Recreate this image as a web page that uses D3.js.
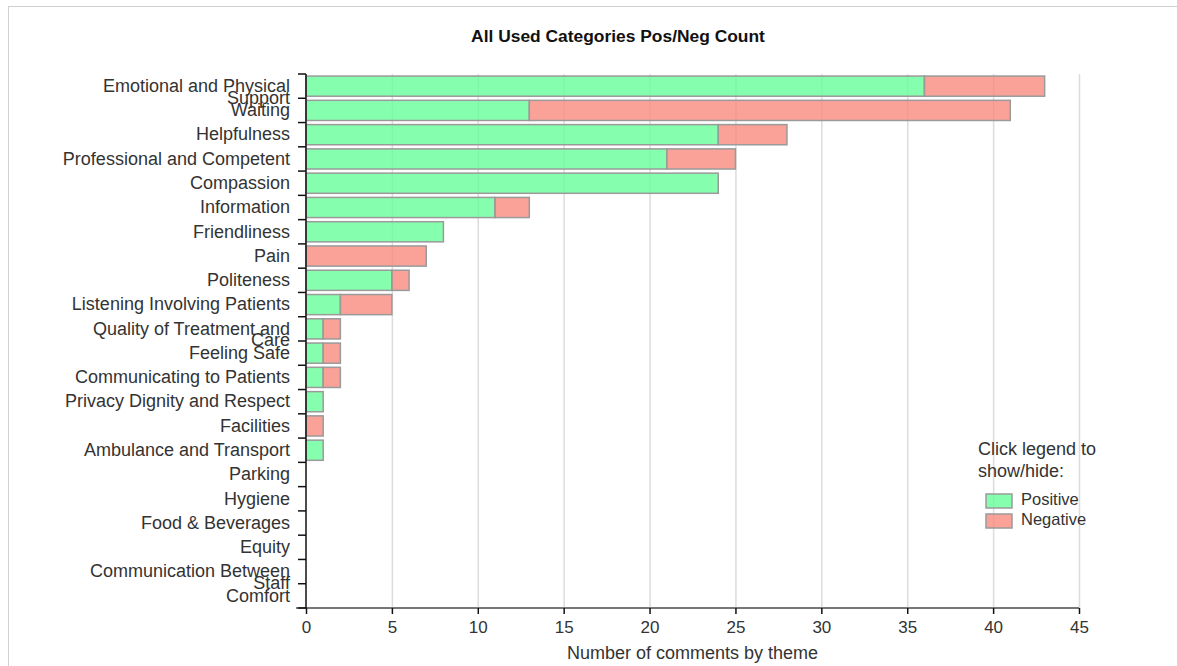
<!DOCTYPE html>
<html>
<head>
<meta charset="utf-8">
<script src="https://cdn.jsdelivr.net/npm/d3@7"></script>
<style>
  html, body { margin: 0; padding: 0; background: #fff; overflow: hidden; }
  #frame { position: absolute; left: 8px; top: 6px; width: 1200px; height: 700px;
           border: 1px solid #d0d0d0; box-sizing: border-box; }
  svg { position: absolute; left: 0; top: 0; }
  text { font-family: "Liberation Sans", Arial, sans-serif; }
</style>
</head>
<body>
<div id="frame"></div>
<svg id="chart" width="1177" height="666"></svg>
<script>
// Themes, ordered by total count
const categories = [
  "Emotional and Physical Support", "Waiting", "Helpfulness",
  "Professional and Competent", "Compassion", "Information", "Friendliness",
  "Pain", "Politeness", "Listening Involving Patients",
  "Quality of Treatment and Care", "Feeling Safe", "Communicating to Patients",
  "Privacy Dignity and Respect", "Facilities", "Ambulance and Transport",
  "Parking", "Hygiene", "Food & Beverages", "Equity",
  "Communication Between Staff", "Comfort"
];
const positive = [36, 13, 24, 21, 24, 11, 8, 0, 5, 2, 1, 1, 1, 1, 0, 1, 0, 0, 0, 0, 0, 0];
const negative = [7, 28, 4, 4, 0, 2, 0, 7, 1, 3, 1, 1, 1, 0, 1, 0, 0, 0, 0, 0, 0, 0];
const seriesNames = ["Positive", "Negative"];
const xTicks = [0, 5, 10, 15, 20, 25, 30, 35, 40, 45];

const colors = { Positive: "#66ff99", Negative: "#f98b7e" };

const rows = categories.map((c, i) => ({ category: c, Positive: positive[i], Negative: negative[i] }));
const stacked = d3.stack().keys(seriesNames)(rows);

const svg = d3.select("#chart");
const plotLeft = 306, plotRight = 1079, plotTop = 74, plotBottom = 608;

const x = d3.scaleLinear().domain([0, 45]).range([plotLeft, plotRight]);
const y = d3.scaleBand().domain(categories).range([plotTop, plotBottom])
  .paddingInner(0.17).paddingOuter(0.085);

// vertical gridlines
svg.append("g")
  .attr("transform", `translate(0,${plotTop})`)
  .call(d3.axisBottom(x).tickValues(xTicks.slice(1)).tickSize(plotBottom - plotTop).tickFormat(""))
  .call(g => g.select(".domain").remove())
  .call(g => g.selectAll(".tick line").attr("stroke", "#dcdcdc").attr("stroke-width", 1.5));

// stacked bars
const layers = svg.append("g").selectAll("g")
  .data(stacked).join("g")
  .attr("fill", d => colors[d.key])
  .attr("fill-opacity", 0.8);

layers.selectAll("rect")
  .data(d => d.filter(s => s[1] - s[0] > 0))
  .join("rect")
  .attr("x", d => x(d[0]))
  .attr("y", d => y(d.data.category))
  .attr("width", d => x(d[1]) - x(d[0]))
  .attr("height", y.bandwidth())
  .attr("stroke", "#9a9a9a")
  .attr("stroke-width", 1.5);

// x axis
const xAxis = svg.append("g")
  .attr("transform", `translate(0,${plotBottom})`)
  .call(d3.axisBottom(x).tickValues(xTicks).tickSizeOuter(0).tickPadding(7));
xAxis.select(".domain").attr("stroke", "#777").attr("stroke-width", 2)
  .attr("d", `M${plotLeft - 10},0H${plotRight}`);
xAxis.selectAll(".tick line").attr("stroke", "#111").attr("stroke-width", 1.5);
xAxis.selectAll(".tick text").attr("font-size", 17).attr("fill", "#333")
  .attr("font-family", "Liberation Sans, Arial, sans-serif");

svg.append("text")
  .attr("x", (plotLeft + plotRight) / 2).attr("y", 659)
  .attr("text-anchor", "middle").attr("font-size", 18).attr("fill", "#333")
  .text("Number of comments by theme");

// y axis: labels centred on bands, ticks on band boundaries
const yAxis = svg.append("g")
  .attr("transform", `translate(${plotLeft},0)`)
  .call(d3.axisLeft(y).tickSize(0).tickPadding(16));
yAxis.select(".domain").attr("stroke", "#111").attr("stroke-width", 1.5)
  .attr("d", `M0,${plotTop}V${plotBottom}`);
yAxis.selectAll(".tick text")
  .attr("font-size", 18).attr("fill", "#333")
  .attr("font-family", "Liberation Sans, Arial, sans-serif")
  .call(wrap, 235);

const bounds = categories.map(c => y(c) - y.step() * y.paddingInner() / 2)
  .concat([plotBottom]);
yAxis.selectAll(".bound").data(bounds).join("line")
  .attr("class", "bound")
  .attr("x1", -8).attr("x2", 0)
  .attr("y1", d => d).attr("y2", d => d)
  .attr("stroke", "#111").attr("stroke-width", 1.5);

// break long labels onto tightly spaced lines
function wrap(texts, width) {
  texts.each(function () {
    const text = d3.select(this);
    const words = text.text().split(/\s+/).reverse();
    const xPos = text.attr("x");
    let line = [], word;
    let tspan = text.text(null).append("tspan").attr("x", xPos).attr("dy", "0.32em");
    while ((word = words.pop())) {
      line.push(word);
      tspan.text(line.join(" "));
      if (tspan.node().getComputedTextLength() > width && line.length > 1) {
        line.pop();
        tspan.text(line.join(" "));
        line = [word];
        tspan = text.append("tspan").attr("x", xPos).attr("dy", "0.65em").text(word);
      }
    }
  });
}

// title
svg.append("text")
  .attr("x", 618).attr("y", 42)
  .attr("text-anchor", "middle").attr("font-size", 17.4).attr("font-weight", "bold")
  .attr("fill", "#111")
  .text("All Used Categories Pos/Neg Count");

// legend
const legend = svg.append("g").attr("transform", "translate(978,455)");
legend.append("text").attr("font-size", 18).attr("fill", "#333").text("Click legend to");
legend.append("text").attr("y", 22).attr("font-size", 18).attr("fill", "#333").text("show/hide:");
const items = legend.selectAll(".item").data(seriesNames).join("g")
  .attr("class", "item")
  .attr("transform", (d, i) => `translate(8,${39 + i * 20})`)
  .style("cursor", "pointer");
items.append("rect")
  .attr("width", 26).attr("height", 14)
  .attr("fill", d => colors[d]).attr("fill-opacity", 0.8)
  .attr("stroke", "#9a9a9a").attr("stroke-width", 1.5);
items.append("text")
  .attr("x", 35).attr("y", 11).attr("font-size", 16.5).attr("fill", "#333")
  .text(d => d);
items.on("click", (event, key) => {
  const layer = layers.filter(d => d.key === key);
  const hidden = layer.style("display") === "none";
  layer.style("display", hidden ? null : "none");
});
</script>
</body>
</html>
